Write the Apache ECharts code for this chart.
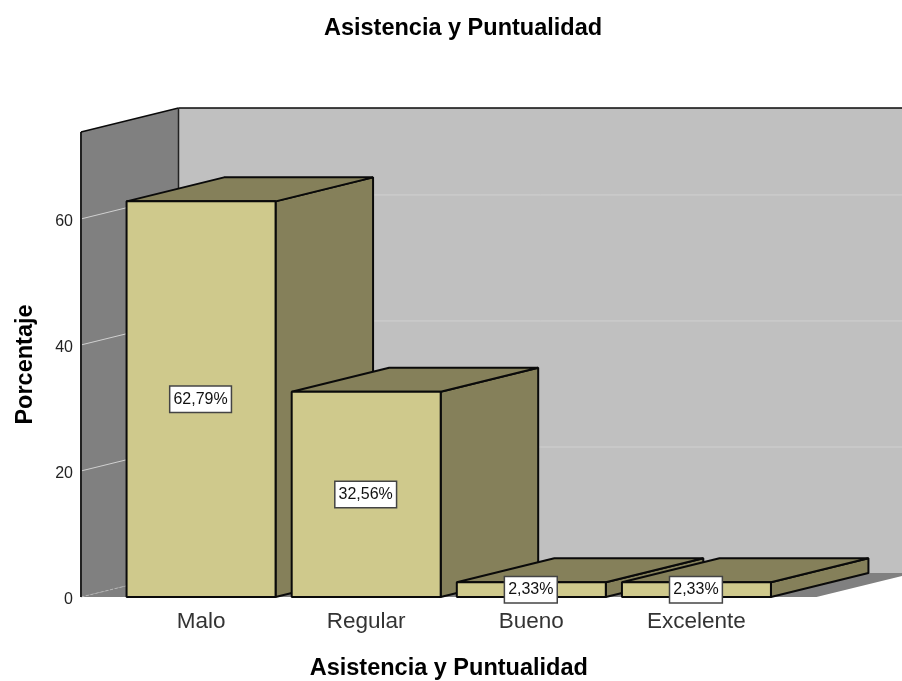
<!DOCTYPE html>
<html>
<head>
<meta charset="utf-8">
<style>html,body{margin:0;padding:0;background:#fff}#chart{width:902px;height:681px}</style>
<script src="https://cdn.jsdelivr.net/npm/echarts@6/dist/echarts.min.js"></script>
</head>
<body>
<div id="chart"></div>
<script>
const categories = ['Malo', 'Regular', 'Bueno', 'Excelente'];
const percentages = [62.79, 32.56, 2.33, 2.33];
const percentLabels = ['62,79%', '32,56%', '2,33%', '2,33%'];
const yTicks = [0, 20, 40, 60];
const yMax = 73.8;

// Oblique projection of the chart box
const DEPTH_X = 97.5, DEPTH_Y = -24;
const WALL_MARGIN = 37.5;
const BAR_WIDTH = 149;

const C = {
  front: '#cfc98c', shade: '#85805a', wall: '#808080', back: '#c0c0c0',
  grid: '#d0d0d0', edge: '#0a0a0a'
};

function poly(points, fill, stroke, width) {
  return {
    type: 'polygon', shape: { points },
    style: { fill, stroke: stroke || null, lineWidth: width || 0, lineJoin: 'bevel' }
  };
}
function seg(a, b, stroke, width, dash) {
  return {
    type: 'line', shape: { x1: a[0], y1: a[1], x2: b[0], y2: b[1] },
    style: { stroke, lineWidth: width, lineDash: dash || null }
  };
}

function renderWalls(params, api) {
  const band = api.size([1, 0])[0];
  const x0 = api.coord([0, 0])[0] - band / 2 - WALL_MARGIN;
  const x1 = api.coord([categories.length - 1, 0])[0] + band / 2 + WALL_MARGIN;
  const y0 = api.coord([0, 0])[1];
  const yT = api.coord([0, yMax])[1];
  const bx0 = x0 + DEPTH_X, bx1 = x1 + DEPTH_X;
  const children = [
    poly([[bx0, yT + DEPTH_Y], [bx1, yT + DEPTH_Y], [bx1, y0 + DEPTH_Y], [bx0, y0 + DEPTH_Y]], C.back),
    poly([[x0, y0], [x1, y0], [bx1, y0 + DEPTH_Y], [bx0, y0 + DEPTH_Y]], C.wall),
    poly([[x0, yT], [bx0, yT + DEPTH_Y], [bx0, y0 + DEPTH_Y], [x0, y0]], C.wall)
  ];
  yTicks.forEach(function (t) {
    const y = api.coord([0, t])[1];
    if (t === 0) {
      children.push(seg([x0, y], [bx0, y + DEPTH_Y], '#b4b4b4', 1, [3, 2]));
      return;
    }
    children.push(seg([x0, y], [bx0, y + DEPTH_Y], C.grid, 1));
    children.push(seg([bx0, y + DEPTH_Y], [bx1, y + DEPTH_Y], C.grid, 1));
  });
  children.push(seg([x0, y0], [x0, yT], '#222', 2));
  children.push(seg([x0, yT], [bx0, yT + DEPTH_Y], C.edge, 1.5));
  children.push(seg([bx0, yT + DEPTH_Y], [bx1, yT + DEPTH_Y], C.edge, 1.5));
  children.push(seg([bx0, yT + DEPTH_Y], [bx0, y0 + DEPTH_Y], '#222', 1.5));
  return { type: 'group', children };
}

function renderBar(params, api) {
  const idx = api.value(0), val = api.value(1);
  const base = api.coord([idx, 0]), top = api.coord([idx, val]);
  const l = base[0] - BAR_WIDTH / 2, r = base[0] + BAR_WIDTH / 2;
  const yb = base[1], yt = top[1];
  const dx = DEPTH_X, dy = DEPTH_Y;
  return {
    type: 'group',
    children: [
      poly([[r, yt], [r + dx, yt + dy], [r + dx, yb + dy], [r, yb]], C.shade, C.edge, 2),
      poly([[l, yt], [l + dx, yt + dy], [r + dx, yt + dy], [r, yt]], C.shade, C.edge, 2),
      poly([[l, yt], [r, yt], [r, yb], [l, yb]], C.front, C.edge, 2),
      {
        type: 'text', z2: 10,
        x: base[0] - 0.5, y: (yb + yt) / 2,
        style: {
          text: percentLabels[idx], fill: '#111',
          font: '16px "Liberation Sans", Arial, sans-serif',
          align: 'center', verticalAlign: 'middle',
          backgroundColor: '#fff', borderColor: '#444', borderWidth: 1.5,
          padding: [5, 3, 4, 3]
        }
      }
    ]
  };
}

const chart = echarts.init(document.getElementById('chart'), null, { renderer: 'canvas' });
chart.setOption({
  animation: false,
  backgroundColor: '#fff',
  textStyle: { fontFamily: '"Liberation Sans", Arial, sans-serif' },
  title: {
    text: 'Asistencia y Puntualidad', left: 458, top: 12, textAlign: 'center',
    textStyle: { fontSize: 23.5, fontWeight: 'bold', color: '#000' }
  },
  grid: { left: 118.5, top: 132, width: 660.5, height: 465, outerBoundsMode: 'none' },
  xAxis: {
    type: 'category', data: categories,
    name: 'Asistencia y Puntualidad', nameLocation: 'middle', nameGap: 60,
    nameTextStyle: { fontSize: 23.5, fontWeight: 'bold', color: '#000' },
    axisLine: { show: false }, axisTick: { show: false },
    axisLabel: { fontSize: 22.5, color: '#333', margin: 13 }
  },
  yAxis: {
    type: 'value', min: 0, max: yMax, offset: WALL_MARGIN,
    name: 'Porcentaje', nameLocation: 'middle', nameGap: 43,
    nameTextStyle: { fontSize: 23.5, fontWeight: 'bold', color: '#000' },
    axisLine: { show: false }, axisTick: { show: false }, splitLine: { show: false },
    axisLabel: {
      margin: 8, customValues: yTicks,
      formatter: function (v) { return '{t|' + v + '}'; },
      rich: { t: { fontSize: 16, color: '#222', padding: [5, 0, 0, 0] } }
    }
  },
  series: [
    { type: 'custom', data: [[0, 0]], renderItem: renderWalls, silent: true, z: 1 },
    {
      type: 'custom', z: 2, renderItem: renderBar,
      encode: { x: 0, y: 1 },
      data: percentages.map(function (v, i) { return [i, v]; })
    }
  ]
});
</script>
</body>
</html>
